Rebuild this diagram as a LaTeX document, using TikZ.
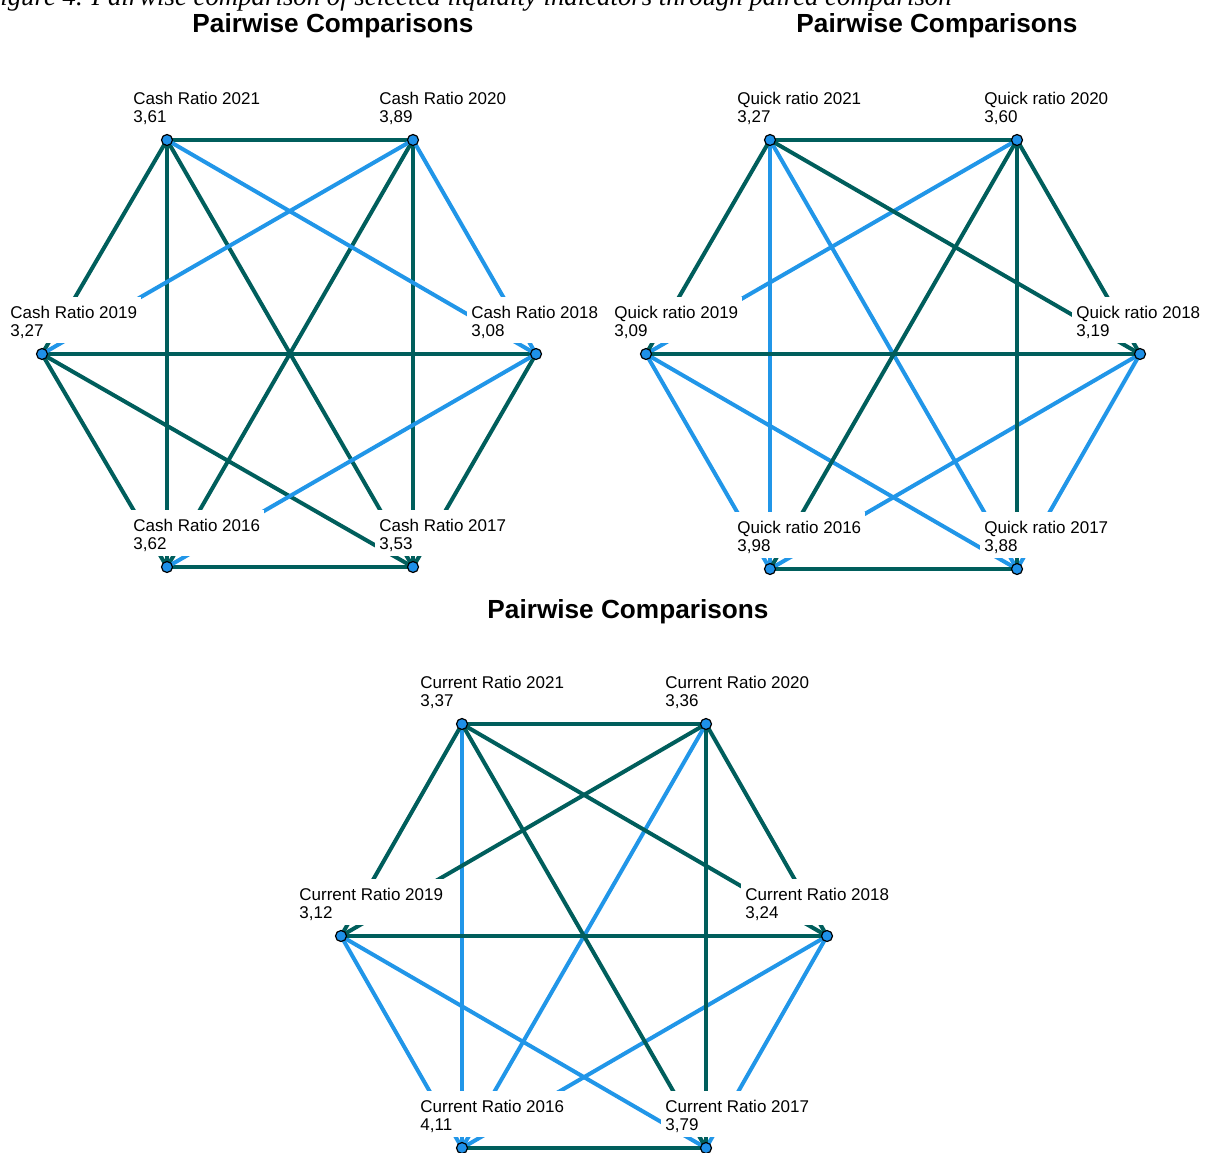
\documentclass[tikz,border=0pt]{standalone}
\usepackage{fontspec}
\setmainfont{Liberation Sans}
\newfontfamily\captionserif{Liberation Serif}
\usetikzlibrary{calc}

\definecolor{tealdark}{RGB}{0,94,92}
\definecolor{lineblue}{RGB}{33,150,232}
\definecolor{dotblue}{RGB}{30,144,232}

\pgfdeclarelayer{edges}
\pgfsetlayers{edges,main}

\tikzset{
    rankdot/.style={draw=black, line width=0.6pt, fill=dotblue, circle, inner sep=0pt, minimum size=5.5pt},
    ranklbl/.style={anchor=north west, fill=white, inner xsep=2pt, inner ysep=2pt, align=left,
        font=\fontsize{8.5}{9}\selectfont},
    dk/.style={line width=2pt, draw=tealdark},
    bl/.style={line width=2pt, draw=lineblue},
    paneltitle/.style={anchor=base, inner sep=0pt, font=\fontsize{13.1}{15}\selectfont\bfseries},
}

\begin{document}
\begin{tikzpicture}[x=0.5pt, y=-0.5pt]
    \useasboundingbox (0,0) rectangle (1209,1152);

    % Caption and titles
    \node[anchor=base west, inner sep=0pt, font=\captionserif\itshape\fontsize{13.4}{15}\selectfont] (caption) at (-16.4,5)
        {Figure 4. Pairwise comparison of selected liquidity indicators through paired comparison};
    \node[paneltitle] (t1) at (333,32) {Pairwise Comparisons};
    \node[paneltitle] (t2) at (937,32) {Pairwise Comparisons};
    \node[paneltitle] (t3) at (628,618) {Pairwise Comparisons};

    % Cash ratio
    \node[rankdot] (ca21) at (167,140) {};
    \node[rankdot] (ca20) at (413,140) {};
    \node[rankdot] (ca19) at (42,354) {};
    \node[rankdot] (ca18) at (536,354) {};
    \node[rankdot] (ca16) at (167,567) {};
    \node[rankdot] (ca17) at (413,567) {};

    % Quick ratio
    \node[rankdot] (qu21) at (770,140) {};
    \node[rankdot] (qu20) at (1017,140) {};
    \node[rankdot] (qu19) at (646,354) {};
    \node[rankdot] (qu18) at (1140,354) {};
    \node[rankdot] (qu16) at (770,569) {};
    \node[rankdot] (qu17) at (1017,569) {};

    % Current ratio
    \node[rankdot] (cu21) at (462,724) {};
    \node[rankdot] (cu20) at (706,724) {};
    \node[rankdot] (cu19) at (341,936) {};
    \node[rankdot] (cu18) at (827,936) {};
    \node[rankdot] (cu16) at (462,1148) {};
    \node[rankdot] (cu17) at (706,1148) {};

    % Connections
    \begin{pgfonlayer}{edges}
    \foreach \a/\b in {21/20, 21/19, 21/16, 21/17, 20/16, 20/17, 19/18, 19/16, 19/17, 18/17, 16/17}
        \draw[dk] (ca\a.center) -- (ca\b.center);
    \foreach \a/\b in {21/18, 20/19, 20/18, 18/16}
        \draw[bl] (ca\a.center) -- (ca\b.center);

    \foreach \a/\b in {21/16, 21/17, 20/19, 19/16, 19/17, 18/16, 18/17}
        \draw[bl] (qu\a.center) -- (qu\b.center);
    \foreach \a/\b in {21/20, 21/19, 21/18, 20/18, 20/16, 20/17, 19/18, 16/17}
        \draw[dk] (qu\a.center) -- (qu\b.center);

    \foreach \a/\b in {21/16, 20/16, 19/16, 19/17, 18/16, 18/17}
        \draw[bl] (cu\a.center) -- (cu\b.center);
    \foreach \a/\b in {21/20, 21/19, 21/18, 21/17, 20/19, 20/18, 20/17, 19/18, 16/17}
        \draw[dk] (cu\a.center) -- (cu\b.center);
    \end{pgfonlayer}

    % Labels
    \begin{scope}
        \clip (0,40) rectangle (597,600);
        \node[ranklbl] (lca21) at ($(ca21)+(-38,-57)$) {\rule{0pt}{8.5pt}Cash Ratio 2021\\3,61};
        \node[ranklbl] (lca20) at ($(ca20)+(-38,-57)$) {\rule{0pt}{8.5pt}Cash Ratio 2020\\3,89};
        \node[ranklbl] (lca19) at ($(ca19)+(-36,-57)$) {\rule{0pt}{8.5pt}Cash Ratio 2019\\3,27};
        \node[ranklbl] (lca18) at ($(ca18)+(-69,-57)$) {\rule{0pt}{8.5pt}Cash Ratio 2018\\3,08};
        \node[ranklbl] (lca16) at ($(ca16)+(-38,-57)$) {\rule{0pt}{8.5pt}Cash Ratio 2016\\3,62};
        \node[ranklbl] (lca17) at ($(ca17)+(-38,-57)$) {\rule{0pt}{8.5pt}Cash Ratio 2017\\3,53};
    \end{scope}

    \begin{scope}
        \clip (600,40) rectangle (1199,600);
        \node[ranklbl] (lqu21) at ($(qu21)+(-37,-57)$) {\rule{0pt}{8.5pt}Quick ratio 2021\\3,27};
        \node[ranklbl] (lqu20) at ($(qu20)+(-37,-57)$) {\rule{0pt}{8.5pt}Quick ratio 2020\\3,60};
        \node[ranklbl] (lqu19) at ($(qu19)+(-36,-57)$) {\rule{0pt}{8.5pt}Quick ratio 2019\\3,09};
        \node[ranklbl] (lqu18) at ($(qu18)+(-68,-57)$) {\rule{0pt}{8.5pt}Quick ratio 2018\\3,19};
        \node[ranklbl] (lqu16) at ($(qu16)+(-37,-57)$) {\rule{0pt}{8.5pt}Quick ratio 2016\\3,98};
        \node[ranklbl] (lqu17) at ($(qu17)+(-37,-57)$) {\rule{0pt}{8.5pt}Quick ratio 2017\\3,88};
    \end{scope}

    \node[ranklbl] (lcu21) at ($(cu21)+(-46,-57)$) {\rule{0pt}{8.5pt}Current Ratio 2021\\3,37};
    \node[ranklbl] (lcu20) at ($(cu20)+(-45,-57)$) {\rule{0pt}{8.5pt}Current Ratio 2020\\3,36};
    \node[ranklbl] (lcu19) at ($(cu19)+(-46,-57)$) {\rule{0pt}{8.5pt}Current Ratio 2019\\3,12};
    \node[ranklbl] (lcu18) at ($(cu18)+(-86,-57)$) {\rule{0pt}{8.5pt}Current Ratio 2018\\3,24};
    \node[ranklbl] (lcu16) at ($(cu16)+(-46,-57)$) {\rule{0pt}{8.5pt}Current Ratio 2016\\4,11};
    \node[ranklbl] (lcu17) at ($(cu17)+(-45,-57)$) {\rule{0pt}{8.5pt}Current Ratio 2017\\3,79};
\end{tikzpicture}
\end{document}
